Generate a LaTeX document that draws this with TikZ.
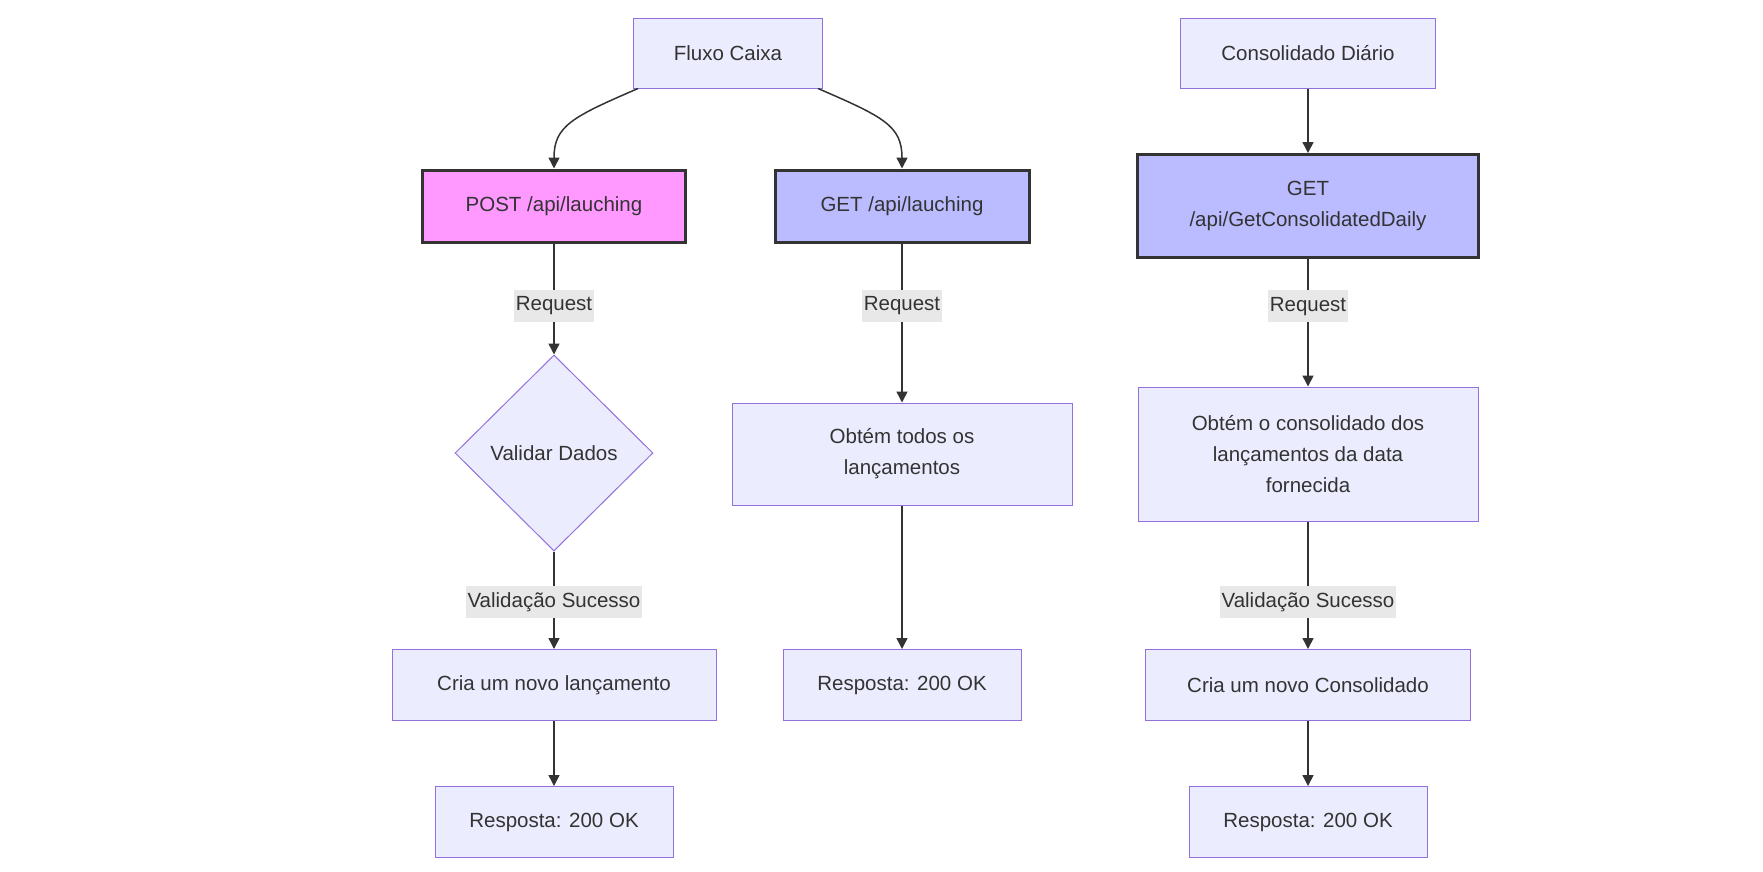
\documentclass[tikz,border=0pt]{standalone}
\usepackage{fontspec}
\setmainfont{Liberation Sans}
\usetikzlibrary{shapes.geometric,arrows.meta}
\definecolor{nodefill}{HTML}{ECECFF}
\definecolor{nodeline}{HTML}{9370DB}
\definecolor{postfill}{HTML}{FF99FF}
\definecolor{getfill}{HTML}{BBBBFF}
\definecolor{darkline}{HTML}{333333}
\definecolor{labelfill}{HTML}{E8E8E8}
\tikzset{
    box/.style={draw=nodeline, fill=nodefill, line width=1pt, text=darkline,
        align=center, inner sep=0pt, font=\fontsize{20.5}{31}\selectfont},
    apibox/.style={box, draw=darkline, line width=3pt},
    decision/.style={box, diamond},
    flow/.style={draw=darkline, line width=1.5pt, -{Triangle[length=11pt,width=11pt]}},
    edgelabel/.style={fill=labelfill, text=darkline, inner xsep=2pt, inner ysep=0pt,
        minimum height=32pt, font=\fontsize{20.5}{24}\selectfont}
}

\begin{document}
\begin{tikzpicture}[x=1pt, y=-1pt]
            \useasboundingbox (0,0) rectangle (1763,871);
            \node[box, minimum width=189pt, minimum height=70pt] (fluxo) at (728,53) {Fluxo Caixa};
            \node[box, minimum width=255pt, minimum height=70pt] (consol) at (1308,53) {Consolidado Diário};
            \node[apibox, fill=postfill, minimum width=263pt, minimum height=72pt] (post) at (554,206) {POST /api/lauching};
            \node[apibox, fill=getfill, minimum width=254pt, minimum height=72pt] (getlanc) at (902,206) {GET /api/lauching};
            \node[apibox, fill=getfill, minimum width=341pt, minimum height=103pt] (getcons) at (1308,206) {GET\\/api/GetConsolidatedDaily};
            \node[decision, minimum width=198pt, minimum height=196pt] (valida) at (554,453) {Validar Dados};
            \node[box, minimum width=340pt, minimum height=102pt] (todos) at (902,454) {Obtém todos os\\lançamentos};
            \node[box, minimum width=340pt, minimum height=134pt] (obtcons) at (1308,454) {Obtém o consolidado dos\\lançamentos da data\\fornecida};
            \node[box, minimum width=324pt, minimum height=71pt] (crialanc) at (554,685) {Cria um novo lançamento};
            \node[box, minimum width=238pt, minimum height=71pt] (resptodos) at (902,685) {Resposta: 200 OK};
            \node[box, minimum width=325pt, minimum height=71pt] (criacons) at (1308,685) {Cria um novo Consolidado};
            \node[box, minimum width=238pt, minimum height=71pt] (resplanc) at (554,822) {Resposta: 200 OK};
            \node[box, minimum width=238pt, minimum height=71pt] (respcons) at (1308,822) {Resposta: 200 OK};

            \draw[flow] ([xshift=5pt]fluxo.south west) .. controls (572,117) and (554,126) .. (post.north);
            \draw[flow] ([xshift=-5pt]fluxo.south east) .. controls (884,117) and (902,126) .. (getlanc.north);
            \draw[flow] (consol) -- (getcons);

            \draw[flow] (post) -- (valida) node[edgelabel, pos=0.56] {Request};
            \draw[flow] (valida) -- (crialanc) node[edgelabel, pos=0.52] {Validação Sucesso};
            \draw[flow] (crialanc) -- (resplanc);

            \draw[flow] (getlanc) -- (todos) node[edgelabel, pos=0.39] {Request};
            \draw[flow] (todos) -- (resptodos);

            \draw[flow] (getcons) -- (obtcons) node[edgelabel, pos=0.37] {Request};
            \draw[flow] (obtcons) -- (criacons) node[edgelabel, pos=0.63] {Validação Sucesso};
            \draw[flow] (criacons) -- (respcons);
        \end{tikzpicture}
\end{document}
